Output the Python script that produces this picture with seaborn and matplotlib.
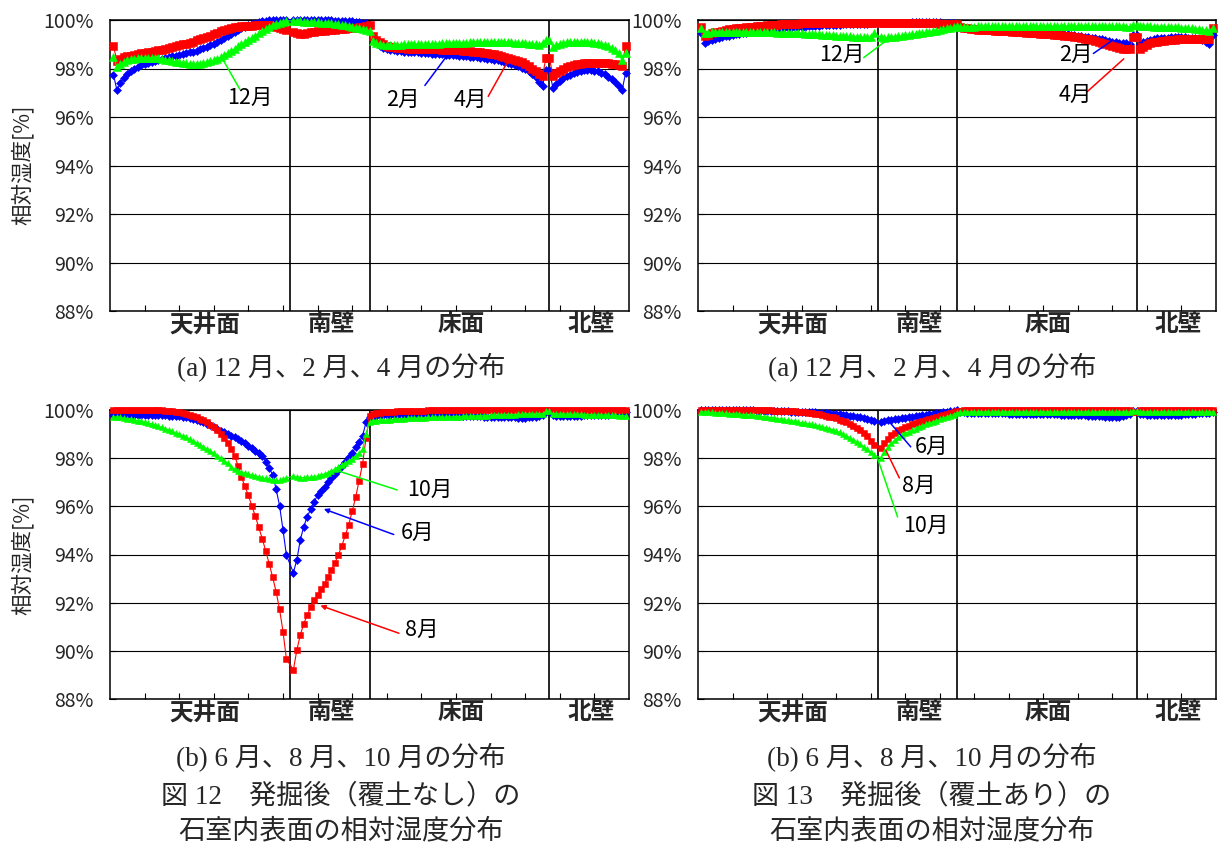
import numpy as np
import matplotlib
matplotlib.use("Agg")
import matplotlib.pyplot as plt
import seaborn as sns

# ------------------------------------------------------------------
# data : relative humidity [%] along the chamber surface
# node order: ceiling x=1..51, south wall 53..75, floor 76..127, north wall 128..149
# ------------------------------------------------------------------
sections = ["天井面", "南壁", "床面", "北壁"]
section_edges = [52, 75, 127]
section_label_x = [27.5, 64, 101.5, 139]
node_x = np.concatenate([np.arange(1, 52), np.arange(53, 150)])

# Fig.12 (a)  no soil cover : Dec / Feb / Apr
dec_a = [
    98.48, 98.07, 98.20, 98.28, 98.34, 98.38, 98.41, 98.43, 98.44, 98.45,
    98.45, 98.45, 98.44, 98.42, 98.40, 98.37, 98.34, 98.31, 98.28, 98.25,
    98.23, 98.21, 98.20, 98.19, 98.19, 98.20, 98.22, 98.25, 98.29, 98.34,
    98.40, 98.47, 98.55, 98.64, 98.73, 98.82, 98.91, 99.00, 99.09, 99.18,
    99.27, 99.36, 99.45, 99.54, 99.63, 99.71, 99.78, 99.84, 99.89, 99.93,
    99.96,
    99.97, 99.96, 99.95, 99.93, 99.92, 99.91, 99.90, 99.90, 99.89, 99.88,
    99.87, 99.86, 99.84, 99.82, 99.80, 99.78, 99.75, 99.72, 99.69, 99.65,
    99.61, 99.57, 99.53,
    99.12, 99.04, 99.00, 98.98, 98.97, 98.97, 98.97, 98.98, 98.98, 98.99,
    98.99, 99.00, 99.00, 99.00, 99.01, 99.01, 99.02, 99.02, 99.03, 99.03,
    99.04, 99.04, 99.05, 99.05, 99.06, 99.06, 99.07, 99.07, 99.08, 99.08,
    99.09, 99.09, 99.10, 99.10, 99.10, 99.10, 99.10, 99.10, 99.10, 99.09,
    99.08, 99.07, 99.06, 99.05, 99.04, 99.03, 99.02, 99.00, 98.97, 99.06,
    99.17, 99.17,
    98.90, 98.98, 99.03, 99.06, 99.08, 99.09, 99.10, 99.10, 99.10, 99.10,
    99.09, 99.08, 99.07, 99.05, 99.02, 98.98, 98.93, 98.86, 98.77, 98.62,
    98.35, 98.62,
]
feb_a = [
    97.75, 97.10, 97.40, 97.62, 97.78, 97.90, 98.00, 98.07, 98.13, 98.18,
    98.22, 98.26, 98.30, 98.34, 98.38, 98.42, 98.46, 98.50, 98.53, 98.56,
    98.59, 98.62, 98.66, 98.70, 98.74, 98.79, 98.84, 98.89, 98.95, 99.01,
    99.08, 99.16, 99.24, 99.33, 99.42, 99.51, 99.59, 99.66, 99.72, 99.78,
    99.83, 99.87, 99.91, 99.94, 99.96, 99.98, 99.99, 100.0, 100.0, 100.0,
    100.0,
    100.0, 100.0, 100.0, 100.0, 100.0, 100.0, 100.0, 100.0, 99.99, 99.99,
    99.98, 99.98, 99.97, 99.97, 99.96, 99.95, 99.95, 99.94, 99.93, 99.91,
    99.89, 99.86, 99.80,
    99.30, 99.08, 98.92, 98.85, 98.80, 98.77, 98.75, 98.73, 98.72, 98.70,
    98.69, 98.68, 98.67, 98.66, 98.65, 98.64, 98.62, 98.61, 98.60, 98.59,
    98.58, 98.57, 98.56, 98.55, 98.54, 98.53, 98.52, 98.50, 98.49, 98.47,
    98.46, 98.44, 98.42, 98.40, 98.38, 98.36, 98.33, 98.30, 98.26, 98.22,
    98.18, 98.14, 98.09, 98.04, 97.97, 97.89, 97.78, 97.64, 97.46, 97.28,
    97.93, 97.93,
    97.20, 97.35, 97.48, 97.59, 97.68, 97.75, 97.81, 97.86, 97.89, 97.92,
    97.93, 97.93, 97.91, 97.88, 97.83, 97.76, 97.67, 97.56, 97.43, 97.28,
    97.10, 97.80,
]
apr_a = [
    98.94, 98.30, 98.40, 98.46, 98.50, 98.53, 98.56, 98.59, 98.62, 98.65,
    98.67, 98.70, 98.72, 98.75, 98.78, 98.81, 98.84, 98.88, 98.92, 98.95,
    98.99, 99.03, 99.07, 99.11, 99.16, 99.20, 99.25, 99.30, 99.36, 99.42,
    99.48, 99.54, 99.59, 99.63, 99.67, 99.70, 99.72, 99.74, 99.75, 99.76,
    99.77, 99.78, 99.79, 99.80, 99.80, 99.79, 99.76, 99.72, 99.67, 99.62,
    99.58,
    99.50, 99.46, 99.44, 99.44, 99.46, 99.49, 99.51, 99.53, 99.55, 99.56,
    99.57, 99.58, 99.59, 99.61, 99.62, 99.64, 99.65, 99.67, 99.69, 99.71,
    99.73, 99.75, 99.78,
    99.35, 99.18, 99.08, 99.00, 98.94, 98.90, 98.87, 98.85, 98.84, 98.83,
    98.82, 98.81, 98.81, 98.80, 98.80, 98.80, 98.80, 98.79, 98.79, 98.79,
    98.78, 98.78, 98.77, 98.77, 98.76, 98.75, 98.74, 98.73, 98.72, 98.70,
    98.69, 98.67, 98.65, 98.63, 98.60, 98.58, 98.55, 98.52, 98.48, 98.44,
    98.40, 98.35, 98.30, 98.25, 98.18, 98.10, 98.00, 97.88, 97.77, 97.68,
    98.45, 98.45,
    97.68, 97.80, 97.90, 97.98, 98.05, 98.10, 98.14, 98.17, 98.20, 98.22,
    98.23, 98.24, 98.24, 98.24, 98.23, 98.22, 98.21, 98.20, 98.18, 98.15,
    98.12, 98.94,
]

# Fig.13 (a)  with soil cover : Dec / Feb / Apr
dec_c = [
    99.66, 99.45, 99.47, 99.49, 99.50, 99.51, 99.52, 99.52, 99.52, 99.52,
    99.52, 99.51, 99.51, 99.51, 99.51, 99.50, 99.50, 99.50, 99.50, 99.50,
    99.49, 99.49, 99.48, 99.48, 99.47, 99.47, 99.46, 99.46, 99.45, 99.45,
    99.44, 99.43, 99.42, 99.42, 99.41, 99.40, 99.39, 99.38, 99.37, 99.36,
    99.35, 99.34, 99.33, 99.32, 99.31, 99.30, 99.30, 99.29, 99.28, 99.28,
    99.45,
    99.28, 99.27, 99.28, 99.29, 99.31, 99.33, 99.35, 99.37, 99.39, 99.41,
    99.43, 99.45, 99.47, 99.49, 99.51, 99.53, 99.56, 99.59, 99.62, 99.65,
    99.68, 99.71, 99.74,
    99.72, 99.72, 99.73, 99.73, 99.73, 99.74, 99.74, 99.74, 99.74, 99.75,
    99.75, 99.75, 99.75, 99.75, 99.75, 99.75, 99.75, 99.75, 99.75, 99.75,
    99.75, 99.75, 99.75, 99.75, 99.75, 99.75, 99.75, 99.75, 99.75, 99.75,
    99.75, 99.75, 99.75, 99.75, 99.75, 99.75, 99.75, 99.75, 99.75, 99.75,
    99.75, 99.75, 99.75, 99.75, 99.75, 99.74, 99.74, 99.74, 99.73, 99.73,
    99.78, 99.78,
    99.74, 99.74, 99.74, 99.74, 99.73, 99.73, 99.73, 99.72, 99.72, 99.71,
    99.71, 99.70, 99.69, 99.68, 99.67, 99.66, 99.64, 99.62, 99.60, 99.57,
    99.54, 99.66,
]
feb_c = [
    99.45, 99.06, 99.12, 99.17, 99.22, 99.26, 99.30, 99.33, 99.36, 99.39,
    99.41, 99.43, 99.45, 99.47, 99.49, 99.51, 99.53, 99.55, 99.57, 99.59,
    99.61, 99.62, 99.64, 99.65, 99.67, 99.68, 99.69, 99.70, 99.71, 99.72,
    99.73, 99.74, 99.75, 99.76, 99.77, 99.78, 99.79, 99.79, 99.80, 99.81,
    99.81, 99.82, 99.82, 99.83, 99.83, 99.84, 99.84, 99.85, 99.85, 99.86,
    99.86,
    99.87, 99.87, 99.88, 99.88, 99.88, 99.89, 99.89, 99.89, 99.89, 99.90,
    99.90, 99.90, 99.90, 99.90, 99.90, 99.90, 99.90, 99.90, 99.89, 99.89,
    99.88, 99.87, 99.85,
    99.70, 99.68, 99.67, 99.66, 99.65, 99.64, 99.64, 99.63, 99.63, 99.62,
    99.62, 99.61, 99.61, 99.60, 99.60, 99.59, 99.59, 99.58, 99.57, 99.56,
    99.55, 99.54, 99.53, 99.52, 99.51, 99.50, 99.49, 99.48, 99.46, 99.45,
    99.43, 99.41, 99.39, 99.37, 99.35, 99.33, 99.31, 99.29, 99.27, 99.25,
    99.23, 99.20, 99.17, 99.14, 99.11, 99.08, 99.06, 99.05, 99.04, 99.03,
    99.38, 99.38,
    99.03, 99.10, 99.15, 99.19, 99.22, 99.24, 99.25, 99.26, 99.27, 99.28,
    99.28, 99.28, 99.28, 99.28, 99.27, 99.26, 99.24, 99.21, 99.17, 99.11,
    99.03, 99.38,
]
apr_c = [
    99.72, 99.34, 99.40, 99.45, 99.49, 99.52, 99.55, 99.58, 99.61, 99.63,
    99.65, 99.67, 99.69, 99.70, 99.72, 99.73, 99.74, 99.76, 99.77, 99.78,
    99.79, 99.80, 99.81, 99.82, 99.83, 99.83, 99.84, 99.85, 99.85, 99.86,
    99.86, 99.86, 99.87, 99.87, 99.87, 99.87, 99.88, 99.88, 99.88, 99.88,
    99.88, 99.88, 99.89, 99.89, 99.89, 99.89, 99.89, 99.89, 99.89, 99.89,
    99.89,
    99.89, 99.89, 99.89, 99.89, 99.89, 99.88, 99.88, 99.88, 99.88, 99.88,
    99.87, 99.87, 99.87, 99.87, 99.86, 99.86, 99.86, 99.85, 99.85, 99.85,
    99.84, 99.84, 99.84,
    99.72, 99.68, 99.65, 99.63, 99.61, 99.60, 99.59, 99.58, 99.58, 99.57,
    99.56, 99.55, 99.54, 99.54, 99.53, 99.52, 99.51, 99.50, 99.49, 99.48,
    99.47, 99.46, 99.45, 99.44, 99.43, 99.42, 99.41, 99.40, 99.39, 99.37,
    99.36, 99.35, 99.33, 99.31, 99.29, 99.26, 99.23, 99.20, 99.17, 99.14,
    99.10, 99.06, 99.02, 98.98, 98.93, 98.88, 98.84, 98.82, 98.81, 98.80,
    99.28, 99.28,
    98.80, 98.90, 98.98, 99.04, 99.08, 99.11, 99.13, 99.15, 99.17, 99.18,
    99.19, 99.20, 99.20, 99.20, 99.20, 99.20, 99.20, 99.20, 99.20, 99.21,
    99.22, 99.66,
]

# Fig.12 (b)  no soil cover : Jun / Aug / Oct
jun_b = [
    99.80, 99.80, 99.80, 99.80, 99.80, 99.80, 99.80, 99.79, 99.79, 99.79,
    99.79, 99.79, 99.78, 99.78, 99.78, 99.78, 99.77, 99.77, 99.76, 99.75,
    99.73, 99.70, 99.66, 99.62, 99.58, 99.54, 99.49, 99.43, 99.37, 99.30,
    99.22, 99.14, 99.07, 99.00, 98.94, 98.87, 98.80, 98.71, 98.62, 98.52,
    98.42, 98.31, 98.20, 98.08, 97.86, 97.58, 97.32, 96.72, 96.03, 95.02,
    93.96,
    93.25, 93.78, 94.61, 95.16, 95.57, 95.89, 96.20, 96.45, 96.65, 96.82,
    97.00, 97.18, 97.34, 97.51, 97.69, 97.86, 98.04, 98.22, 98.45, 98.66,
    98.93, 99.49, 99.72,
    99.76, 99.77, 99.78, 99.78, 99.79, 99.79, 99.79, 99.80, 99.80, 99.80,
    99.80, 99.80, 99.80, 99.80, 99.80, 99.80, 99.80, 99.80, 99.80, 99.79,
    99.79, 99.79, 99.78, 99.78, 99.77, 99.77, 99.76, 99.76, 99.75, 99.75,
    99.74, 99.74, 99.73, 99.73, 99.72, 99.72, 99.71, 99.71, 99.70, 99.70,
    99.69, 99.69, 99.68, 99.68, 99.68, 99.69, 99.70, 99.72, 99.75, 99.80,
    99.95, 99.95,
    99.78, 99.77, 99.76, 99.76, 99.76, 99.76, 99.76, 99.77, 99.77, 99.78,
    99.78, 99.79, 99.79, 99.80, 99.80, 99.81, 99.81, 99.82, 99.82, 99.83,
    99.83, 99.90,
]
aug_b = [
    100.0, 100.0, 100.0, 100.0, 100.0, 100.0, 100.0, 100.0, 100.0, 99.99,
    99.99, 99.99, 99.99, 99.98, 99.98, 99.97, 99.96, 99.95, 99.93, 99.91,
    99.88, 99.84, 99.80, 99.75, 99.70, 99.64, 99.57, 99.49, 99.39, 99.28,
    99.15, 99.00, 98.82, 98.62, 98.40, 98.11, 97.69, 97.21, 96.83, 96.45,
    96.02, 95.59, 95.13, 94.66, 94.15, 93.62, 93.06, 92.46, 91.73, 90.80,
    89.65,
    89.21, 90.03, 90.66, 91.12, 91.49, 91.81, 92.09, 92.32, 92.55, 92.78,
    93.06, 93.36, 93.65, 93.98, 94.36, 94.79, 95.24, 95.80, 96.38, 97.07,
    97.76, 98.84, 99.76,
    99.83, 99.86, 99.88, 99.90, 99.91, 99.92, 99.93, 99.94, 99.94, 99.95,
    99.95, 99.96, 99.96, 99.97, 99.97, 99.97, 99.98, 99.98, 99.98, 99.99,
    99.99, 99.99, 99.99, 99.99, 100.0, 100.0, 100.0, 100.0, 100.0, 100.0,
    100.0, 100.0, 100.0, 100.0, 100.0, 100.0, 100.0, 100.0, 100.0, 100.0,
    100.0, 100.0, 100.0, 100.0, 100.0, 100.0, 100.0, 100.0, 100.0, 100.0,
    100.0, 100.0,
    100.0, 100.0, 100.0, 100.0, 100.0, 100.0, 100.0, 100.0, 100.0, 100.0,
    100.0, 100.0, 100.0, 100.0, 100.0, 100.0, 100.0, 100.0, 100.0, 100.0,
    100.0, 100.0,
]
oct_b = [
    99.72, 99.71, 99.69, 99.67, 99.64, 99.62, 99.59, 99.56, 99.53, 99.49,
    99.46, 99.42, 99.38, 99.33, 99.28, 99.23, 99.17, 99.11, 99.05, 98.99,
    98.93, 98.87, 98.80, 98.72, 98.64, 98.56, 98.48, 98.39, 98.30, 98.21,
    98.11, 98.01, 97.90, 97.78, 97.62, 97.55, 97.48, 97.42, 97.38, 97.34,
    97.30, 97.26, 97.22, 97.19, 97.16, 97.13, 97.10, 97.08, 97.08, 97.12,
    97.18,
    97.25, 97.20, 97.19, 97.19, 97.20, 97.21, 97.23, 97.26, 97.30, 97.35,
    97.40, 97.47, 97.55, 97.64, 97.72, 97.80, 97.90, 97.98, 98.10, 98.22,
    98.38, 99.00, 99.50,
    99.55, 99.56, 99.57, 99.58, 99.59, 99.60, 99.61, 99.62, 99.63, 99.64,
    99.65, 99.66, 99.67, 99.67, 99.68, 99.68, 99.69, 99.69, 99.70, 99.70,
    99.71, 99.71, 99.72, 99.72, 99.73, 99.73, 99.74, 99.74, 99.75, 99.75,
    99.76, 99.76, 99.77, 99.77, 99.78, 99.78, 99.79, 99.79, 99.80, 99.80,
    99.81, 99.81, 99.82, 99.82, 99.83, 99.83, 99.84, 99.84, 99.85, 99.85,
    99.94, 99.94,
    99.85, 99.84, 99.84, 99.83, 99.83, 99.83, 99.82, 99.82, 99.82, 99.81,
    99.81, 99.81, 99.80, 99.80, 99.80, 99.79, 99.79, 99.78, 99.78, 99.77,
    99.77, 99.76,
]

# Fig.13 (b)  with soil cover : Jun / Aug / Oct
jun_d = [
    100.0, 100.0, 100.0, 100.0, 100.0, 100.0, 100.0, 99.99, 99.99, 99.99,
    99.99, 99.99, 99.98, 99.98, 99.98, 99.98, 99.97, 99.97, 99.97, 99.96,
    99.96, 99.96, 99.95, 99.95, 99.94, 99.94, 99.93, 99.93, 99.92, 99.92,
    99.91, 99.91, 99.90, 99.90, 99.89, 99.88, 99.87, 99.86, 99.85, 99.84,
    99.82, 99.80, 99.78, 99.76, 99.74, 99.72, 99.69, 99.66, 99.63, 99.60,
    99.56,
    99.51, 99.55, 99.58, 99.60, 99.62, 99.64, 99.66, 99.68, 99.70, 99.72,
    99.74, 99.76, 99.78, 99.80, 99.82, 99.84, 99.86, 99.88, 99.90, 99.92,
    99.94, 99.96, 99.98,
    99.92, 99.90, 99.89, 99.88, 99.88, 99.87, 99.87, 99.87, 99.86, 99.86,
    99.86, 99.86, 99.86, 99.86, 99.85, 99.85, 99.85, 99.85, 99.85, 99.85,
    99.84, 99.84, 99.84, 99.84, 99.83, 99.83, 99.83, 99.82, 99.82, 99.81,
    99.81, 99.80, 99.80, 99.79, 99.79, 99.78, 99.78, 99.77, 99.76, 99.76,
    99.75, 99.74, 99.73, 99.72, 99.72, 99.72, 99.73, 99.75, 99.78, 99.83,
    99.96, 99.96,
    99.85, 99.82, 99.80, 99.80, 99.79, 99.79, 99.79, 99.79, 99.79, 99.80,
    99.80, 99.80, 99.81, 99.82, 99.83, 99.84, 99.85, 99.86, 99.87, 99.87,
    99.88, 99.92,
]
aug_d = [
    100.0, 100.0, 100.0, 100.0, 100.0, 100.0, 100.0, 100.0, 100.0, 100.0,
    100.0, 100.0, 99.99, 99.99, 99.99, 99.99, 99.99, 99.98, 99.98, 99.98,
    99.98, 99.97, 99.97, 99.97, 99.96, 99.96, 99.95, 99.94, 99.93, 99.92,
    99.90, 99.89, 99.87, 99.85, 99.83, 99.80, 99.77, 99.73, 99.69, 99.65,
    99.60, 99.55, 99.49, 99.42, 99.34, 99.26, 99.16, 99.05, 98.90, 98.72,
    98.54,
    98.43, 98.62, 98.80, 98.95, 99.06, 99.15, 99.23, 99.29, 99.35, 99.40,
    99.45, 99.50, 99.54, 99.58, 99.62, 99.66, 99.70, 99.74, 99.78, 99.82,
    99.87, 99.92, 99.96,
    99.97, 99.98, 99.98, 99.99, 99.99, 99.99, 100.0, 100.0, 100.0, 100.0,
    100.0, 100.0, 100.0, 100.0, 100.0, 100.0, 100.0, 100.0, 100.0, 100.0,
    100.0, 100.0, 100.0, 100.0, 100.0, 100.0, 100.0, 100.0, 100.0, 100.0,
    100.0, 100.0, 100.0, 100.0, 100.0, 100.0, 100.0, 100.0, 100.0, 100.0,
    100.0, 100.0, 100.0, 100.0, 100.0, 100.0, 100.0, 100.0, 100.0, 100.0,
    99.93, 99.93,
    100.0, 100.0, 100.0, 100.0, 100.0, 100.0, 100.0, 100.0, 100.0, 100.0,
    100.0, 100.0, 100.0, 100.0, 100.0, 100.0, 100.0, 100.0, 100.0, 100.0,
    100.0, 100.0,
]
oct_d = [
    99.93, 99.92, 99.91, 99.90, 99.89, 99.88, 99.87, 99.86, 99.85, 99.84,
    99.83, 99.82, 99.81, 99.80, 99.79, 99.78, 99.76, 99.74, 99.72, 99.70,
    99.68, 99.66, 99.64, 99.62, 99.60, 99.58, 99.56, 99.53, 99.50, 99.47,
    99.44, 99.42, 99.40, 99.37, 99.34, 99.31, 99.27, 99.23, 99.18, 99.13,
    99.07, 99.00, 98.93, 98.85, 98.77, 98.68, 98.58, 98.48, 98.37, 98.24,
    98.12,
    98.02, 98.25, 98.45, 98.62, 98.75, 98.86, 98.95, 99.03, 99.10, 99.17,
    99.23, 99.29, 99.34, 99.40, 99.45, 99.50, 99.56, 99.61, 99.66, 99.71,
    99.76, 99.81, 99.87,
    99.90, 99.91, 99.91, 99.92, 99.92, 99.92, 99.92, 99.92, 99.92, 99.92,
    99.92, 99.92, 99.92, 99.92, 99.92, 99.92, 99.92, 99.92, 99.92, 99.92,
    99.92, 99.92, 99.92, 99.92, 99.92, 99.92, 99.92, 99.92, 99.92, 99.92,
    99.92, 99.92, 99.92, 99.92, 99.92, 99.92, 99.92, 99.92, 99.92, 99.92,
    99.92, 99.92, 99.92, 99.92, 99.92, 99.92, 99.92, 99.92, 99.92, 99.92,
    99.95, 99.95,
    99.92, 99.92, 99.92, 99.92, 99.92, 99.92, 99.92, 99.92, 99.92, 99.92,
    99.92, 99.92, 99.92, 99.92, 99.92, 99.92, 99.92, 99.92, 99.92, 99.92,
    99.92, 99.92,
]

caption_a = "(a) 12 月、2 月、4 月の分布"
caption_b = "(b) 6 月、8 月、10 月の分布"
fig_title_12 = ["図 12　発掘後（覆土なし）の", "石室内表面の相対湿度分布"]
fig_title_13 = ["図 13　発掘後（覆土あり）の", "石室内表面の相対湿度分布"]

# ------------------------------------------------------------------
BLUE, RED, GREEN = "#0000ff", "#ff0000", "#00ff00"
MARKER = {BLUE: "D", RED: "s", GREEN: "^"}
SIZE_TOP = {BLUE: 4.4, RED: 5.8, GREEN: 5.4}     # panels (a) use bigger markers
SIZE_BOTTOM = {BLUE: 3.6, RED: 4.4, GREEN: 4.6}

sns.set_theme(style="white")
NARROW = ["Liberation Sans Narrow", "Noto Sans CJK JP", "DejaVu Sans"]
GOTHIC = ["Noto Sans CJK JP", "DejaVu Sans"]
SERIF = ["Liberation Serif", "Noto Sans CJK JP", "DejaVu Serif"]
plt.rcParams["font.family"] = NARROW

W, H = 1218, 848
fig = plt.figure(figsize=(W / 100, H / 100), dpi=100)
fig.patch.set_facecolor("white")


def box(left, top, right, bottom):
    return [left / W, 1 - bottom / H, (right - left) / W, (bottom - top) / H]


def draw_panel(rect, series, callouts, sizes):
    ax = fig.add_axes(rect)
    for vals, color in series:
        if len(vals) != len(node_x):
            raise ValueError(f"series length {len(vals)} != {len(node_x)}")
        sns.lineplot(x=node_x, y=vals, ax=ax, color=color, marker=MARKER[color],
                     markersize=sizes[color], markeredgecolor=color,
                     markeredgewidth=0.4, linewidth=0.8, clip_on=False, zorder=3)
    ax.set_xlim(0, 150)
    ax.set_ylim(88, 100)
    ax.set_xlabel("")
    ax.set_ylabel("")
    ax.set_yticks(np.arange(88, 101, 2))
    ax.set_yticklabels([f"{v}%" for v in range(88, 101, 2)])
    ax.yaxis.grid(True, color="black", linewidth=0.8)
    ax.xaxis.grid(False)
    for e in section_edges:
        ax.axvline(e, color="black", linewidth=1.2, zorder=2)
    ax.set_xticks(section_label_x)
    ax.set_xticklabels(sections, fontsize=17, fontweight="bold", family=GOTHIC)
    ax.set_xticks(np.arange(10, 150, 10), minor=True)
    ax.tick_params(axis="x", which="major", length=0, pad=1)
    ax.tick_params(axis="x", which="minor", direction="in", length=4.5,
                   width=0.8, color="black", bottom=True)
    ax.tick_params(axis="y", which="major", direction="in", length=4,
                   width=0.8, color="black", labelsize=14, pad=12, left=True)
    for s in ax.spines.values():
        s.set_color("black")
        s.set_linewidth(1.1)
    for text, txy, start, end, color, head in callouts:
        ax.annotate("", xy=end, xytext=start,
                    arrowprops=dict(arrowstyle="-|>" if head else "-", color=color,
                                    lw=1.1, mutation_scale=7, shrinkA=0, shrinkB=0))
        ax.text(txy[0], txy[1], text, ha="center", va="center", fontsize=15.5,
                family=NARROW, color="black")
    return ax


draw_panel(box(110, 20, 629, 311),
           [(feb_a, BLUE), (apr_a, RED), (dec_a, GREEN)],
           [("12月", (40.5, 96.78), (37.5, 97.15), (32.7, 98.35), GREEN, False),
            ("2月", (84.5, 96.70), (91.0, 97.30), (97.0, 98.45), BLUE, False),
            ("4月", (104.0, 96.70), (109.3, 96.85), (115.0, 98.30), RED, False)],
           SIZE_TOP)
draw_panel(box(698, 20, 1216, 311),
           [(feb_c, BLUE), (apr_c, RED), (dec_c, GREEN)],
           [("12月", (41.7, 98.56), (48.0, 98.45), (54.7, 99.17), GREEN, False),
            ("2月", (109.3, 98.56), (114.5, 98.62), (119.9, 99.15), BLUE, False),
            ("4月", (109.3, 96.90), (112.6, 97.03), (123.3, 98.40), RED, False)],
           SIZE_TOP)
draw_panel(box(110, 410, 629, 699),
           [(jun_b, BLUE), (aug_b, RED), (oct_b, GREEN)],
           [("10月", (92.5, 96.68), (83.0, 96.68), (65.7, 97.48), GREEN, False),
            ("6月", (89.0, 94.90), (82.0, 94.83), (61.8, 95.89), BLUE, True),
            ("8月", (90.2, 90.87), (83.5, 90.73), (60.8, 91.88), RED, True)],
           SIZE_BOTTOM)
draw_panel(box(698, 410, 1216, 699),
           [(jun_d, BLUE), (aug_d, RED), (oct_d, GREEN)],
           [("6月", (67.5, 98.46), (61.6, 98.47), (55.8, 99.44), BLUE, False),
            ("8月", (64.0, 96.85), (58.3, 97.18), (54.4, 98.33), RED, False),
            ("10月", (66.0, 95.18), (57.8, 95.56), (52.0, 97.99), GREEN, False)],
           SIZE_BOTTOM)

# y axis titles (left column only)
for yc in (165, 555):
    fig.text(22 / W, 1 - yc / H, "相対湿度[%]", rotation=90, ha="center",
             va="center", fontsize=15.5, family=GOTHIC)

# captions under the panels
for xc in (341, 932):
    fig.text(xc / W, 1 - 368 / H, caption_a, ha="center", va="center",
             fontsize=19.5, family=SERIF)
    fig.text(xc / W, 1 - 758 / H, caption_b, ha="center", va="center",
             fontsize=19.5, family=SERIF)
for xc, lines in ((341, fig_title_12), (932, fig_title_13)):
    fig.text(xc / W, 1 - 797 / H, lines[0], ha="center", va="center",
             fontsize=19.5, family=SERIF)
    fig.text(xc / W, 1 - 831 / H, lines[1], ha="center", va="center",
             fontsize=19.5, family=SERIF)

fig.savefig("out.png", dpi=100, facecolor="white")
